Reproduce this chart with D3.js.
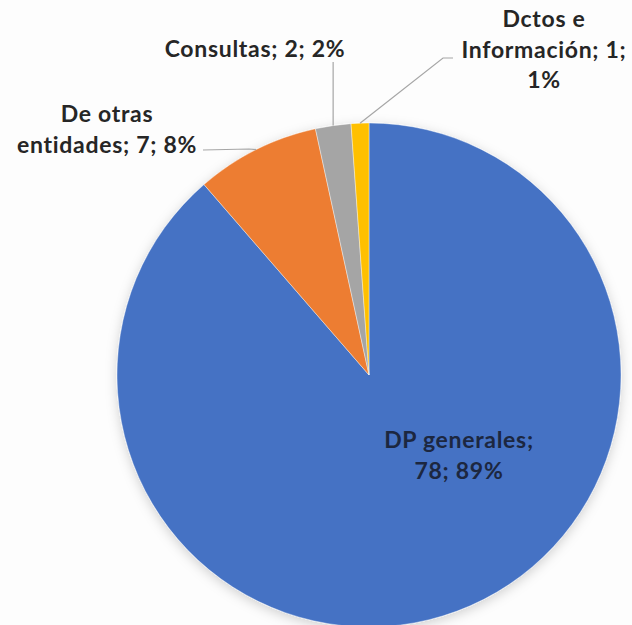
<!DOCTYPE html>
<html>
<head>
<meta charset="utf-8">
<script src="https://cdn.jsdelivr.net/npm/d3@7"></script>
<style>
  body { margin: 0; background: #fdfdfd; }
  text { font-family: Lato, "Open Sans", sans-serif; font-weight: bold; fill: #262626; }
</style>
</head>
<body>
<div class="chart"></div>
<script>
var categories = ["DP generales", "De otras entidades", "Consultas", "Dctos e Información"];
var values = [78, 7, 2, 1];
var percents = ["89%", "8%", "2%", "1%"];
var colors = ["#4472C4", "#ED7D31", "#A5A5A5", "#FFC000"];

// label lines as they wrap in the picture
var labelLines = [
  ["DP generales;", "78; 89%"],
  ["De otras", "entidades; 7; 8%"],
  ["Consultas; 2; 2%"],
  ["Dctos e", "Información; 1;", "1%"]
];

var width = 632, height = 625;
var cx = 369, cy = 375, radius = 252;

var svg = d3.select('.chart').append('svg')
    .attr('width', width).attr('height', height);

var defs = svg.append('defs');
var f = defs.append('filter').attr('id', 'shadow')
    .attr('x', '-10%').attr('y', '-10%').attr('width', '120%').attr('height', '120%');
f.append('feDropShadow').attr('dx', 0).attr('dy', 3).attr('stdDeviation', 6)
    .attr('flood-color', '#000').attr('flood-opacity', 0.18);

var g = svg.append('g').attr('transform', 'translate(' + cx + ',' + cy + ')');

var pie = d3.pie().sort(null).value(function(d) { return d; });
var arcs = pie(values);
var arc = d3.arc().innerRadius(0).outerRadius(radius);

g.append('g').attr('filter', 'url(#shadow)')
  .selectAll('path')
  .data(arcs)
  .enter()
  .append('path')
  .attr('d', arc)
  .style('fill', function(d, i) { return colors[i]; })
  .style('stroke', '#ffffff')
  .style('stroke-width', 0.4);

// label positions (relative to pie centre), y = first baseline
var labelPos = [
  { x: 90, y: 73 },
  { x: -262, y: -253 },
  { x: -114, y: -318 },
  { x: 175, y: -348 }
];
var lineHeight = 30.5;

var outer = d3.arc().innerRadius(radius).outerRadius(radius);

// leader lines
var leaders = [
  null,
  function(p) { return [[-166, -225], [-120, -226], p]; },
  function(p) { return [[p[0], -313], p]; },
  function(p) { return [[84, -317], [74, -317], p]; }
];
arcs.forEach(function(d, i) {
  if (!leaders[i]) return;
  var p = outer.centroid(d);
  g.append('path')
    .attr('d', d3.line()(leaders[i](p)))
    .style('fill', 'none')
    .style('stroke', '#a6a6a6')
    .style('stroke-width', 1.2);
});

labelLines.forEach(function(lines, i) {
  var t = g.append('text')
    .attr('text-anchor', 'middle')
    .style('font-size', '23px')
    .style('letter-spacing', '0.7px');
  if (i === 0) t.style('fill', '#1c2740');
  lines.forEach(function(l, j) {
    t.append('tspan')
      .attr('x', labelPos[i].x)
      .attr('y', labelPos[i].y + j * lineHeight)
      .text(l);
  });
});
</script>
</body>
</html>
